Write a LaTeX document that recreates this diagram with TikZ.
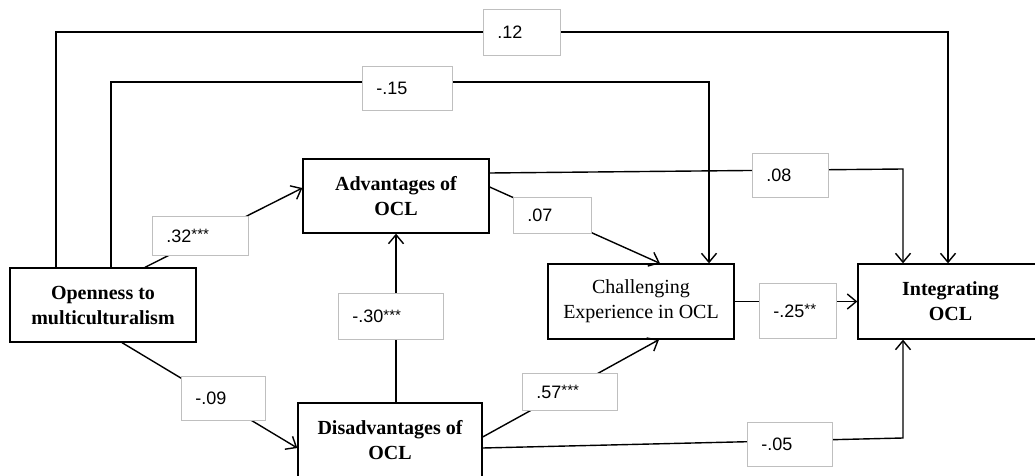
\documentclass[tikz,border=0pt]{standalone}
\usepackage{fontspec}
\setmainfont{Liberation Serif}
\newfontfamily\lblfont{Liberation Sans}
\usetikzlibrary{arrows.meta}
\newcommand\sig[1]{\raisebox{2.5pt}{\fontsize{15}{15}\selectfont #1}}
\begin{document}
\begin{tikzpicture}[x=1pt,y=-1pt,
  box/.style={draw, line width=1.3pt, minimum height=74pt, inner sep=0pt, align=center,
    font=\fontsize{20}{25}\selectfont\bfseries},
  plainbox/.style={box, font=\fontsize{20}{25}\selectfont},
  conn/.style={line width=1.4pt},
  arr/.style={conn, -{Straight Barb[length=9pt,width=15pt]}},
  lbl/.style={draw=black!25, line width=0.9pt, fill=white, anchor=north west,
    inner xsep=14pt, inner ysep=0pt, align=left, font=\lblfont\fontsize{18}{18}\selectfont}]
\useasboundingbox (0,0) rectangle (1035,476);
\clip (0,0) rectangle (1035,476);
% main boxes
\node[box, minimum width=186pt] (open) at (103,305) {Openness to\\multiculturalism};
\node[box, minimum width=186pt] (adv) at (396,196) {Advantages of\\OCL};
\node[box, minimum width=184pt] (dis) at (390,440) {Disadvantages of\\OCL};
\node[plainbox, minimum width=186pt, minimum height=75pt] (chal) at (641,301.5) {Challenging\\Experience in OCL};
\node[box, minimum width=185pt, minimum height=75pt] (integ) at (950.5,301.5) {Integrating\\OCL};
% helper coordinates
\coordinate (a12) at (56,32);
\coordinate (b12) at (948,32);
\coordinate (a15) at (111,82);
\coordinate (b15) at (709,82);
\coordinate (c08) at (903,169);
\coordinate (c05) at (903,438);
% connectors
\draw[arr] (open.north -| a12) -- (a12) -- (b12) -- (integ.north -| b12);
\draw[arr] (open.north -| a15) -- (a15) -- (b15) -- (chal.north -| b15);
\draw[arr] ([yshift=23pt]adv.east) -- (c08) -- (integ.north -| c08);
\draw[arr] ([yshift=9pt]adv.east) -- ([xshift=19pt]chal.north);
\draw[arr] ([xshift=42pt]open.north) -- ([yshift=8pt]adv.west);
\draw[arr] (dis.north -| adv.south) -- (adv.south);
\draw[arr] ([xshift=19pt]open.south) -- ([yshift=-8pt]dis.west);
\draw[arr] ([yshift=3pt]dis.east) -- ([xshift=18pt]chal.south);
\draw[arr] (chal.east) -- (integ.west);
\draw[arr] ([yshift=-8pt]dis.east) -- (c05) -- (integ.south -| c05);
% labels
\node[lbl, text width=49pt, minimum height=46pt] (l12) at (483,9) {.12};
\node[lbl, text width=62pt, minimum height=44pt] (l15) at (362,66) {-.15};
\node[lbl, text width=48pt, minimum height=44pt] (l08) at (752,153) {.08};
\node[lbl, text width=50pt, minimum height=36pt] (l07) at (513,197) {.07};
\node[lbl, text width=68pt, minimum height=39pt] (l32) at (152,216) {.32\sig{***}};
\node[lbl, text width=77pt, minimum height=46pt] (l30) at (338,293) {-.30\sig{***}};
\node[lbl, text width=56pt, minimum height=44pt] (l09) at (181,376) {-.09};
\node[lbl, text width=67pt, minimum height=37pt] (l57) at (522,373) {.57\sig{***}};
\node[lbl, text width=49pt, minimum height=55pt] (l25) at (759,283) {-.25\sig{**}};
\node[lbl, text width=57pt, minimum height=44pt] (l05) at (747,422) {-.05};
\end{tikzpicture}
\end{document}
